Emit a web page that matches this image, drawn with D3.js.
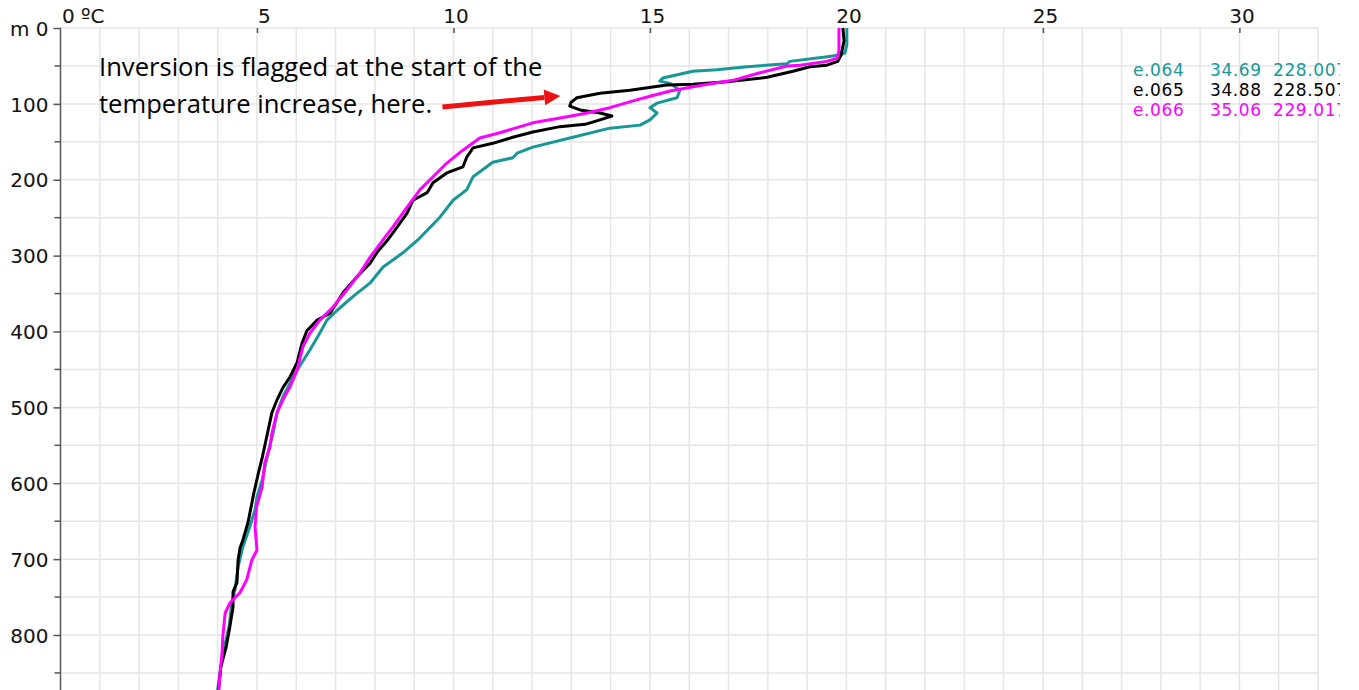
<!DOCTYPE html>
<html>
<head>
<meta charset="utf-8">
<style>
    body { margin: 0; background: #fff; }
    svg { display: block; }
</style>
</head>
<body>
<div id="chart"></div>
<script src="https://d3js.org/d3.v7.min.js"></script>
<script>
    // e.064 (teal) profile: depth (m) and temperature (oC)
    var depth064 = [0, 22, 33, 36, 38, 44, 47, 51, 55, 57, 66, 70, 73, 82, 92, 99, 105, 112, 121, 128,
        132, 144, 157, 165, 171, 177, 196, 213, 227, 249, 279, 296, 315, 336, 354, 372, 385, 402, 424, 451,
        468, 486, 507, 534, 560, 596, 618, 635, 657, 684, 710, 740, 758, 789, 824, 868, 880];
    var temp064 = [20.01, 20.01, 19.96, 19.79, 19.51, 18.56, 18.49, 17.47, 16.70, 16.09, 15.33, 15.25, 15.51, 15.76, 15.69, 15.18, 15.0, 15.18, 15.0, 14.75,
        13.98, 13.04, 12.02, 11.62, 11.51, 11.0, 10.5, 10.34, 9.99, 9.66, 9.10, 8.72, 8.21, 7.88, 7.44, 7.04, 6.78, 6.60, 6.35, 6.02,
        5.84, 5.66, 5.51, 5.41, 5.28, 5.13, 5.0, 4.95, 4.82, 4.64, 4.52, 4.44, 4.36, 4.29, 4.13, 4.01, 3.98];

    // e.065 (black) profile
    var depth065 = [0, 17, 36, 44, 49, 51, 57, 65, 71, 74, 75, 82, 86, 92, 98, 103, 108, 112, 116, 121,
        127, 130, 137, 144, 152, 158, 170, 183, 191, 204, 217, 227, 244, 270, 279, 296, 310, 328, 349, 376,
        385, 399, 415, 427, 441, 460, 474, 490, 507, 543, 567, 588, 613, 626, 652, 675, 685, 701, 731, 743,
        763, 789, 817, 842, 868, 880];
    var temp065 = [19.91, 19.94, 19.86, 19.78, 19.50, 19.07, 18.64, 17.98, 16.96, 16.10, 15.43, 14.49, 13.73, 13.14, 12.99, 12.96, 13.22, 13.73, 14.03, 13.73,
        13.35, 12.71, 12.02, 11.51, 11.0, 10.5, 10.34, 10.24, 9.83, 9.48, 9.33, 8.97, 8.82, 8.46, 8.33, 8.05, 7.88, 7.54, 7.19, 6.86,
        6.53, 6.27, 6.15, 6.09, 6.02, 5.84, 5.66, 5.51, 5.38, 5.23, 5.13, 5.03, 4.92, 4.87, 4.77, 4.64, 4.57, 4.52, 4.49, 4.39,
        4.39, 4.31, 4.21, 4.08, 4.03, 4.0];

    // e.066 (magenta) profile
    var depth066 = [0, 30, 40, 44, 49, 50, 59, 69, 75, 83, 90, 96, 105, 112, 117, 125, 138, 145, 161, 178,
        196, 213, 236, 262, 279, 302, 323, 345, 368, 385, 402, 420, 451, 473, 490, 507, 534, 552, 573, 605,
        631, 657, 688, 701, 727, 744, 758, 771, 802, 824, 850, 880];
    var temp066 = [19.81, 19.81, 19.76, 19.50, 18.82, 18.49, 17.80, 17.11, 16.35, 15.51, 15.0, 14.57, 13.98, 13.40, 12.89, 12.02, 11.18, 10.67, 10.24, 9.83,
        9.48, 9.15, 8.82, 8.46, 8.21, 7.88, 7.62, 7.29, 6.93, 6.60, 6.35, 6.17, 6.02, 5.84, 5.66, 5.51, 5.38, 5.33, 5.20, 5.13,
        4.99, 4.95, 5.0, 4.87, 4.74, 4.57, 4.31, 4.19, 4.13, 4.11, 4.06, 4.02];

    var names = ["e.064", "e.065", "e.066"];
    var salts = ["34.69", "34.88", "35.06"];
    var lons = ["228.007", "228.507", "229.017"];
    var colors = ["#189797", "#000000", "#ff00ff"];

    var tempTicks = [0, 5, 10, 15, 20, 25, 30];
    var depthTicks = [0, 100, 200, 300, 400, 500, 600, 700, 800];

    // annotation: arrow from (temp, depth) to (temp, depth)
    var noteLines = ["Inversion is flagged at the start of the", "temperature increase, here."];
    var arrowFrom = [9.72, 104];
    var arrowTo = [12.72, 89.5];

    var W = 1359, H = 690;
    var x = d3.scaleLinear().domain([0, 32]).range([60.5, 1318]);
    var y = d3.scaleLinear().domain([0, 800]).range([28, 635]);
    var bottom = H;

    var svg = d3.select("#chart").append("svg")
        .attr("width", W).attr("height", H)
        .style("background", "#fff");

    svg.append("clipPath").attr("id", "plotclip")
        .append("rect").attr("x", x(0)).attr("y", y(0) - 2)
        .attr("width", x(32) - x(0)).attr("height", bottom - y(0) + 2);
    svg.append("clipPath").attr("id", "legclip")
        .append("rect").attr("x", 0).attr("y", 0).attr("width", 1340).attr("height", H);

    // grid
    var grid = svg.append("g").attr("stroke", "#e6e6e6").attr("stroke-width", 1.5);
    grid.selectAll(".vg").data(d3.range(1, 33)).enter().append("line")
        .attr("x1", d => x(d)).attr("x2", d => x(d))
        .attr("y1", y(0)).attr("y2", bottom);
    grid.selectAll(".hg").data(d3.range(0, 900, 50)).enter().append("line")
        .attr("x1", x(0)).attr("x2", x(32))
        .attr("y1", d => y(d)).attr("y2", d => y(d));

    // top axis (temperature)
    var topAxis = d3.axisTop(x).tickValues(tempTicks.slice(1)).tickSize(-5).tickPadding(5).tickFormat(d => d);
    var gt = svg.append("g").attr("transform", "translate(0," + y(0) + ")").call(topAxis);
    gt.select(".domain").remove();
    gt.selectAll(".tick line").attr("stroke", "#555").attr("stroke-width", 1.5);
    gt.selectAll(".tick text")
        .attr("font-family", "DejaVu Sans").attr("font-size", 20).attr("fill", "#111")
        .attr("dx", d => d < 10 ? 7 : 2);
    svg.append("text").attr("x", x(0) + 1.5).attr("y", y(0) - 5)
        .attr("font-family", "DejaVu Sans").attr("font-size", 20).attr("fill", "#111")
        .text("0 ºC");

    // left axis (depth)
    var leftAxis = d3.axisLeft(y).tickValues(depthTicks).tickSize(7).tickSizeOuter(0).tickPadding(5)
        .tickFormat(d => d == 0 ? "m 0" : d);
    var gl = svg.append("g").attr("transform", "translate(" + x(0) + ",0)").call(leftAxis);
    gl.select(".domain").remove();
    gl.selectAll(".tick line").attr("stroke", "#555").attr("stroke-width", 1.5);
    gl.selectAll(".tick text")
        .attr("font-family", "DejaVu Sans").attr("font-size", 20).attr("fill", "#111")
        .attr("dy", "0.36em");
    gl.selectAll(".minor").data(d3.range(50, 900, 100)).enter().append("line")
        .attr("x1", -6).attr("x2", 0)
        .attr("y1", d => y(d)).attr("y2", d => y(d))
        .attr("stroke", "#555").attr("stroke-width", 1.5);
    svg.append("line")
        .attr("x1", x(0)).attr("x2", x(0)).attr("y1", y(0)).attr("y2", bottom)
        .attr("stroke", "#555").attr("stroke-width", 1.5);

    // profiles
    var series = [
        { depth: depth064, temp: temp064 },
        { depth: depth065, temp: temp065 },
        { depth: depth066, temp: temp066 }
    ];
    var line = d3.line()
        .x(d => x(d[0]))
        .y(d => y(d[1]));
    var lines = svg.append("g").attr("clip-path", "url(#plotclip)");
    series.forEach(function (s, i) {
        var pts = s.temp.map((t, j) => [t, s.depth[j]]);
        lines.append("path")
            .datum(pts)
            .attr("fill", "none")
            .attr("stroke", colors[i])
            .attr("stroke-width", 3)
            .attr("stroke-linejoin", "round")
            .attr("d", line);
    });

    // legend
    var leg = svg.append("g").attr("clip-path", "url(#legclip)")
        .attr("font-family", "DejaVu Sans").attr("font-size", 17).attr("letter-spacing", 0.6);
    names.forEach(function (n, i) {
        var yy = 76 + i * 20;
        leg.append("text").attr("x", 1133).attr("y", yy).attr("fill", colors[i]).text(n);
        leg.append("text").attr("x", 1210).attr("y", yy).attr("fill", colors[i]).text(salts[i]);
        leg.append("text").attr("x", 1273).attr("y", yy).attr("fill", colors[i]).text(lons[i]);
    });

    // annotation
    var note = svg.append("g").attr("font-family", "Open Sans").attr("font-size", 25.6).attr("fill", "#000");
    noteLines.forEach(function (t, i) {
        note.append("text").attr("x", 99).attr("y", 76 + i * 37).text(t);
    });
    var ax1 = x(arrowFrom[0]), ay1 = y(arrowFrom[1]);
    var ax2 = x(arrowTo[0]), ay2 = y(arrowTo[1]);
    var ang = Math.atan2(ay2 - ay1, ax2 - ax1);
    var headLen = 16, headW = 8;
    var bx = ax2 - headLen * Math.cos(ang), by = ay2 - headLen * Math.sin(ang);
    svg.append("line")
        .attr("x1", ax1).attr("y1", ay1).attr("x2", bx).attr("y2", by)
        .attr("stroke", "#ee1111").attr("stroke-width", 5);
    svg.append("path")
        .attr("d", "M" + ax2 + "," + ay2 +
            "L" + (bx + headW * Math.sin(ang)) + "," + (by - headW * Math.cos(ang)) +
            "L" + (bx - headW * Math.sin(ang)) + "," + (by + headW * Math.cos(ang)) + "Z")
        .attr("fill", "#ee1111");
</script>
</body>
</html>
